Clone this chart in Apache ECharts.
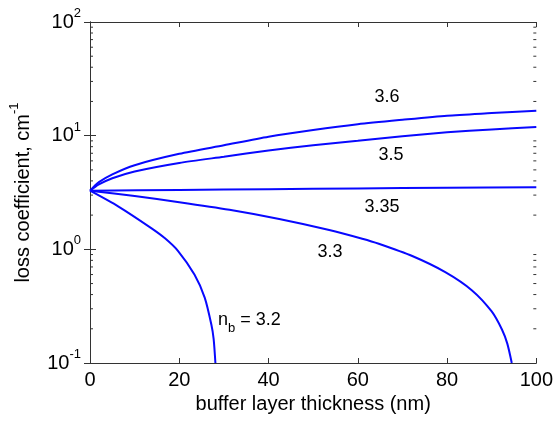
<!DOCTYPE html>
<html>
<head>
<meta charset="utf-8">
<script src="https://cdn.jsdelivr.net/npm/echarts@6/dist/echarts.min.js"></script>
<style>
  html, body { margin: 0; padding: 0; background: #fff; }
  #chart { width: 556px; height: 424px; }
</style>
</head>
<body>
<div id="chart"></div>
<script>
// values (x in nm, y in cm^-1)
const x36 = [0, 2, 5, 10, 20, 30, 40, 50, 60, 70, 80, 90, 100]
const y36 = [3.28, 3.9, 4.57, 5.5, 6.92, 8.22, 9.77, 11.2, 12.6, 13.8, 15.0, 15.8, 16.6]

const x35 = [0, 2, 5, 10, 20, 30, 40, 50, 60, 70, 80, 90, 100]
const y35 = [3.28, 3.72, 4.22, 4.84, 5.75, 6.53, 7.41, 8.22, 9.02, 9.89, 10.7, 11.35, 11.9]

const x335 = [0, 20, 40, 60, 80, 100]
const y335 = [3.28, 3.33, 3.38, 3.43, 3.48, 3.52]

const x33 = [0, 10, 20, 31.25, 42.4, 53.6, 61, 64.7, 72.2, 79.6, 85.6, 90, 92.3, 93.5, 94.5]
const y33 = [3.28, 2.94, 2.6, 2.23, 1.85, 1.48, 1.24, 1.12, 0.873, 0.63, 0.435, 0.284, 0.197, 0.148, 0.1]

const x32 = [0, 6.3, 13.8, 16.8, 19.7, 23.4, 25.7, 27.2, 27.7, 28.1]
const y32 = [3.28, 2.39, 1.53, 1.25, 0.97, 0.6, 0.376, 0.217, 0.163, 0.1]

const yMinorTicks = []
for (let d of [0.1, 1, 10]) {
    for (let k = 2; k <= 9; k++) yMinorTicks.push(d * k)
}

const zip = (xs, ys) => xs.map((x, i) => [x, ys[i]])

const blue = '#0808ff'
const font = 'Liberation Sans, Arial, sans-serif'

function curve(name, xs, ys) {
    return {
        name: name,
        type: 'line',
        data: zip(xs, ys),
        smooth: 0.25,
        showSymbol: false,
        lineStyle: { color: blue, width: 2 },
        silent: true
    }
}

const myChart = echarts.init(document.getElementById('chart'))
const option = {
    animation: false,
    grid: { left: 90, right: 18, top: 22, bottom: 61 },
    xAxis: [
        {
            type: 'value',
            min: 0,
            max: 100,
            interval: 20,
            name: 'buffer layer thickness (nm)',
            nameLocation: 'middle',
            nameGap: 31,
            nameTextStyle: { fontFamily: font, fontSize: 20, color: '#000' },
            axisLine: { lineStyle: { color: '#333', width: 1 } },
            axisTick: { inside: true, length: 5, lineStyle: { color: '#333' } },
            axisLabel: { fontFamily: font, fontSize: 20, color: '#000', margin: 7 },
            splitLine: { show: false }
        },
        {
            type: 'value',
            position: 'top',
            min: 0,
            max: 100,
            interval: 20,
            axisLine: { show: true, lineStyle: { color: '#333', width: 1 } },
            axisTick: { inside: true, length: 5, lineStyle: { color: '#333' } },
            axisLabel: { show: false },
            splitLine: { show: false }
        }
    ],
    yAxis: [
        {
            type: 'log',
            logBase: 10,
            min: 0.1,
            max: 100,
            interval: 1,
            name: '{a|loss coefficient, cm}{s|-1}',
            nameLocation: 'middle',
            nameGap: 52,
            nameTextStyle: {
                rich: {
                    a: { fontFamily: font, fontSize: 20, color: '#000', lineHeight: 30 },
                    s: { fontFamily: font, fontSize: 13, color: '#000', verticalAlign: 'top' }
                }
            },
            axisLine: { show: true, lineStyle: { color: '#333', width: 1 } },
            axisTick: { inside: true, length: 6, lineStyle: { color: '#333' } },
            axisLabel: {
                margin: 9,
                formatter: function (v) {
                    const e = Math.round(Math.log10(v))
                    return '{b|10}{s|' + e + '}'
                },
                rich: {
                    b: { fontFamily: font, fontSize: 20, color: '#000', lineHeight: 30 },
                    s: { fontFamily: font, fontSize: 13, color: '#000', verticalAlign: 'top' }
                }
            },
            splitLine: { show: false }
        },
        {
            type: 'log',
            logBase: 10,
            position: 'right',
            min: 0.1,
            max: 100,
            interval: 1,
            axisLine: { show: true, lineStyle: { color: '#333', width: 1 } },
            axisTick: { inside: true, length: 6, lineStyle: { color: '#333' } },
            axisLabel: { show: false },
            splitLine: { show: false }
        }
    ],
    series: [
        curve('3.6', x36, y36),
        curve('3.5', x35, y35),
        curve('3.35', x335, y335),
        curve('3.3', x33, y33),
        curve('3.2', x32, y32),
        {
            // minor ticks of the log axis, on both sides of the box
            type: 'custom',
            silent: true,
            clip: false,
            data: yMinorTicks.map((v) => [0, v]),
            renderItem: function (params, api) {
                const v = api.value(1)
                const l = api.coord([0, v])
                const r = api.coord([100, v])
                const st = { stroke: '#333', lineWidth: 1 }
                return {
                    type: 'group',
                    children: [
                        { type: 'line', shape: { x1: l[0], y1: l[1], x2: l[0] + 3, y2: l[1] }, style: st },
                        { type: 'line', shape: { x1: r[0], y1: r[1], x2: r[0] - 3, y2: r[1] }, style: st }
                    ]
                }
            }
        }
    ],
    graphic: [
        { type: 'text', x: 387, y: 97, style: { text: '3.6', font: '18px ' + font, fill: '#000', align: 'center', verticalAlign: 'middle' } },
        { type: 'text', x: 391, y: 155, style: { text: '3.5', font: '18px ' + font, fill: '#000', align: 'center', verticalAlign: 'middle' } },
        { type: 'text', x: 382, y: 207, style: { text: '3.35', font: '18px ' + font, fill: '#000', align: 'center', verticalAlign: 'middle' } },
        { type: 'text', x: 330, y: 252, style: { text: '3.3', font: '18px ' + font, fill: '#000', align: 'center', verticalAlign: 'middle' } },
        {
            type: 'text',
            x: 218,
            y: 320,
            style: {
                text: '{n|n}{b|b}{n| = 3.2}',
                align: 'left',
                verticalAlign: 'middle',
                rich: {
                    n: { fontFamily: font, fontSize: 18, fill: '#000', lineHeight: 30 },
                    b: { fontFamily: font, fontSize: 13, fill: '#000', verticalAlign: 'bottom' }
                }
            }
        }
    ]
}
option && myChart.setOption(option)
</script>
</body>
</html>
